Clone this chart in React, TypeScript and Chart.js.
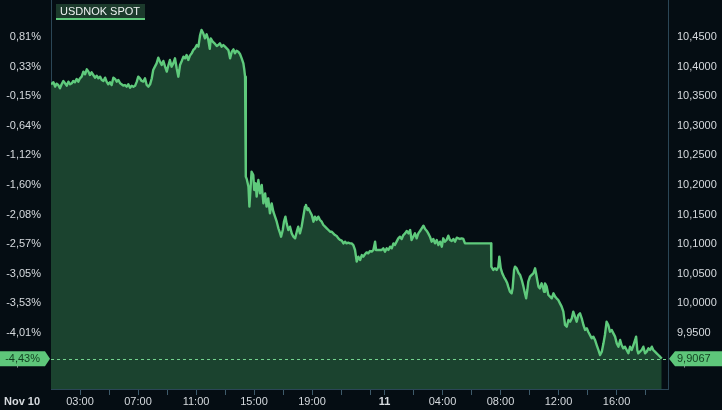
import React, { useEffect, useRef } from "react";
import { Chart, registerables } from "chart.js";

Chart.register(...registerables);

// [minutes since Nov 10 00:00, USDNOK price]
const sessionAsia: [number, number][] = [
  [60,10.3701],[70,10.3735],[77,10.3661],[83,10.3712],[90,10.3689],[97,10.3633],[104,10.3701],[111,10.3757],[118,10.3718],[125,10.3678],[132,10.3746],[139,10.3701],[146,10.3718],[152,10.3757],[159,10.3735],[166,10.3791],[173,10.3746],[180,10.3802],[187,10.3830],[194,10.3915],[201,10.3870],[208,10.3954],[215,10.3915],[221,10.3858],[228,10.3903],[235,10.3858],[242,10.3813],[249,10.3847],[256,10.3802],[263,10.3830],[270,10.3774],[277,10.3757],[284,10.3813],[290,10.3746],[297,10.3701],[304,10.3735],[311,10.3689],[318,10.3813],[325,10.3791],[332,10.3746],[339,10.3774],[346,10.3718],[352,10.3701],[359,10.3678],[366,10.3689],[373,10.3661],[380,10.3701],[387,10.3644],[394,10.3678],[401,10.3661],[408,10.3678],[415,10.3746],[421,10.3830],[428,10.3802],[435,10.3757],[442,10.3746],[449,10.3802],[456,10.3689],[463,10.3661],[470,10.3701],[477,10.3802],[483,10.3943],[490,10.3999],[497,10.4055],[504,10.4151],[511,10.4084],[518,10.4027],[525,10.4095],[532,10.3999],[539,10.3915],[546,10.4027],[552,10.4112],[559,10.3999],[566,10.4055],[573,10.4140],[580,10.3971],[587,10.3830],[594,10.4027],[601,10.4095],[608,10.4168],[615,10.4140],[621,10.4196],[628,10.4112],[635,10.4185],[642,10.4224],[649,10.4281],[656,10.4309],[663,10.4365],[670,10.4337],[677,10.4534],[683,10.4619],[690,10.4562],[697,10.4478],[704,10.4545],[711,10.4450],[717,10.4300],[721,10.4477],[729,10.4421],[739,10.4382],[746,10.4348],[752,10.4365],[759,10.4393],[766,10.4336],[773,10.4365],[780,10.4336],[787,10.4308],[794,10.4280],[801,10.4139],[808,10.4252],[815,10.4291],[821,10.4224],[828,10.4269],[835,10.4252],[842,10.4213],[849,10.4139],[856,10.4055],[860,10.3942],[863,10.3830],
];

const sessionAfterCpi: [number, number][] = [
  [866,10.2141],[870,10.2100],[877,10.1972],[881,10.1634],[886,10.1972],[890,10.2225],[897,10.2169],[901,10.1915],[907,10.2028],[911,10.1803],[918,10.2084],[925,10.1859],[932,10.2000],[939,10.1690],[946,10.1859],[952,10.1634],[959,10.1775],[966,10.1521],[973,10.1690],[980,10.1549],[987,10.1465],[994,10.1380],[1001,10.1268],[1008,10.1183],[1012,10.1127],[1019,10.1240],[1024,10.1380],[1030,10.1465],[1035,10.1352],[1042,10.1240],[1049,10.1296],[1056,10.1183],[1063,10.1127],[1070,10.1099],[1077,10.1211],[1083,10.1296],[1090,10.1183],[1097,10.1296],[1104,10.1465],[1111,10.1634],[1115,10.1662],[1121,10.1577],[1125,10.1606],[1132,10.1549],[1139,10.1493],[1146,10.1380],[1152,10.1465],[1159,10.1409],[1166,10.1465],[1173,10.1409],[1180,10.1380],[1187,10.1324],[1194,10.1296],[1201,10.1268],[1208,10.1240],[1215,10.1211],[1221,10.1211],[1228,10.1183],[1235,10.1155],[1242,10.1138],[1249,10.1099],[1256,10.1071],[1263,10.1060],[1270,10.1014],[1277,10.1042],[1283,10.1014],[1290,10.1026],[1297,10.1014],[1304,10.1014],[1311,10.0986],[1318,10.0902],[1325,10.0705],[1332,10.0789],[1339,10.0733],
];

const sessionOvernight: [number, number][] = [
  [1346,10.0817],[1352,10.0789],[1359,10.0829],[1366,10.0862],[1373,10.0845],[1380,10.0885],[1387,10.0874],[1394,10.0902],[1401,10.1043],[1405,10.0902],[1428,10.0902],[1435,10.0930],[1442,10.0874],[1449,10.0930],[1456,10.0902],[1463,10.0958],[1470,10.0930],[1477,10.1014],[1483,10.0986],[1490,10.1043],[1497,10.1099],[1504,10.1127],[1511,10.1088],[1518,10.1155],[1525,10.1183],[1532,10.1223],[1539,10.1183],[1546,10.1240],[1552,10.1071],[1559,10.1127],[1566,10.1183],[1573,10.1099],[1580,10.1183],[1587,10.1223],[1594,10.1268],[1601,10.1313],[1608,10.1257],[1615,10.1223],[1621,10.1183],[1628,10.1127],[1635,10.1043],[1642,10.1088],[1649,10.1014],[1656,10.1071],[1663,10.0986],[1670,10.1043],[1677,10.0958],[1683,10.1099],[1690,10.1043],[1697,10.1071],[1704,10.1144],[1711,10.1071],[1718,10.1054],[1725,10.1088],[1732,10.1043],[1739,10.1110],[1746,10.1099],[1752,10.1088],[1759,10.1099],[1766,10.1088],[1773,10.1014],[1881,10.1014],
];

const sessionNov11: [number, number][] = [
  [1882,10.0620],[1890,10.0564],[1897,10.0592],[1904,10.0564],[1911,10.0620],[1915,10.0789],[1921,10.0592],[1928,10.0500],[1935,10.0440],[1943,10.0384],[1948,10.0339],[1952,10.0283],[1959,10.0198],[1966,10.0170],[1970,10.0254],[1976,10.0564],[1980,10.0620],[1987,10.0592],[1994,10.0519],[2001,10.0480],[2008,10.0395],[2015,10.0283],[2021,10.0170],[2026,10.0086],[2031,10.0226],[2035,10.0367],[2042,10.0452],[2049,10.0480],[2056,10.0508],[2063,10.0592],[2067,10.0508],[2072,10.0395],[2077,10.0283],[2083,10.0254],[2090,10.0339],[2095,10.0283],[2100,10.0198],[2104,10.0339],[2111,10.0283],[2118,10.0142],[2125,10.0114],[2132,10.0086],[2139,10.0170],[2146,10.0114],[2152,10.0086],[2159,10.0057],[2166,10.0001],[2173,9.9945],[2180,9.9860],[2187,9.9635],[2194,9.9607],[2201,9.9720],[2208,9.9691],[2215,9.9748],[2221,9.9860],[2228,9.9776],[2235,9.9691],[2242,9.9804],[2249,9.9832],[2256,9.9748],[2263,9.9635],[2270,9.9551],[2277,9.9579],[2283,9.9522],[2290,9.9466],[2297,9.9410],[2304,9.9438],[2311,9.9382],[2318,9.9297],[2325,9.9213],[2332,9.9128],[2339,9.9185],[2346,9.9325],[2352,9.9466],[2359,9.9691],[2366,9.9635],[2373,9.9522],[2380,9.9551],[2387,9.9494],[2394,9.9438],[2401,9.9325],[2408,9.9269],[2415,9.9382],[2421,9.9297],[2428,9.9241],[2435,9.9269],[2442,9.9213],[2449,9.9157],[2456,9.9269],[2463,9.9213],[2470,9.9297],[2477,9.9382],[2481,9.9438],[2486,9.9213],[2490,9.9157],[2497,9.9185],[2504,9.9213],[2511,9.9269],[2518,9.9157],[2525,9.9185],[2532,9.9241],[2539,9.9213],[2546,9.9269],[2552,9.9213],[2559,9.9185],[2566,9.9157],[2573,9.9128],[2580,9.9100],[2587,9.9067],
];

const xTickMinutes = [180,300,420,540,660,780,900,1020,1140,1260,1380,1440,1560,1680,1800,1920,2040,2160,2280,2400,2520];
const xTickLabels = ["03:00","","07:00","","11:00","","15:00","","19:00","","","11","","04:00","","08:00","","12:00","","16:00",""];
const boldTickMinute = 1440;
const firstDateLabel = "Nov 10";

const yTickPrices = [9.90, 9.95, 10.00, 10.05, 10.10, 10.15, 10.20, 10.25, 10.30, 10.35, 10.40, 10.45];
const yPctLabels = ["-4,50%","-4,01%","-3,53%","-3,05%","-2,57%","-2,08%","-1,60%","-1,12%","-0,64%","-0,15%","0,33%","0,81%"];
const yPriceLabels = ["9,9000","9,9500","10,0000","10,0500","10,1000","10,1500","10,2000","10,2500","10,3000","10,3500","10,4000","10,4500"];

const seriesName = "USDNOK SPOT";
const lastPrice = 9.9067;
const lastPriceLabel = "9,9067";
const lastPctLabel = "-4,43%";

const X_MIN = 60;
const X_MAX = 2613;
const Y_MIN = 9.8554;
const Y_MAX = 10.5125;

const FONT = "'Liberation Sans', Arial, sans-serif";
const BG = "#050d13";
const LINE = "#5fca7c";
const FILL = "#1b432f";
const TAG = "#5ec67a";
const TAG_TEXT = "#123f20";
const AXIS_TEXT = "#d6dade";
const BORDER = "#2b4656";
const TICK = "#3e5b6b";

const overlay = {
  id: "overlay",
  afterDatasetsDraw(chart: any) {
    const { ctx, chartArea, scales } = chart;
    const y = Math.round(scales.y.getPixelForValue(lastPrice)) + 0.5;
    ctx.save();
    ctx.strokeStyle = "#74d38e";
    ctx.lineWidth = 1;
    ctx.setLineDash([3, 3]);
    ctx.beginPath();
    ctx.moveTo(chartArea.left, y);
    ctx.lineTo(chartArea.right, y);
    ctx.stroke();
    ctx.restore();
  },
  afterDraw(chart: any) {
    const { ctx, chartArea, scales, width } = chart;
    const yc = scales.y.getPixelForValue(lastPrice);
    ctx.save();
    // right price tag
    const rx = chartArea.right + 1;
    ctx.fillStyle = TAG;
    ctx.beginPath();
    ctx.moveTo(rx, yc);
    ctx.lineTo(rx + 6, yc - 7.5);
    ctx.lineTo(width, yc - 7.5);
    ctx.lineTo(width, yc + 7.5);
    ctx.lineTo(rx + 6, yc + 7.5);
    ctx.closePath();
    ctx.fill();
    ctx.fillStyle = TAG_TEXT;
    ctx.font = `11px ${FONT}`;
    ctx.textBaseline = "middle";
    ctx.textAlign = "left";
    ctx.fillText(lastPriceLabel, chartArea.right + 9, yc + 0.5);
    // left pct tag
    const lx = chartArea.left - 1;
    ctx.fillStyle = TAG;
    ctx.beginPath();
    ctx.moveTo(0, yc - 7.5);
    ctx.lineTo(lx - 5, yc - 7.5);
    ctx.lineTo(lx, yc);
    ctx.lineTo(lx - 5, yc + 7.5);
    ctx.lineTo(0, yc + 7.5);
    ctx.closePath();
    ctx.fill();
    ctx.fillStyle = TAG_TEXT;
    ctx.textAlign = "right";
    ctx.fillText(lastPctLabel, chartArea.left - 11, yc + 0.5);
    // legend box
    ctx.fillStyle = "#1c3a2c";
    ctx.fillRect(56, 4, 89, 14);
    ctx.fillStyle = LINE;
    ctx.fillRect(56, 18, 89, 2);
    ctx.fillStyle = "#eef2f2";
    ctx.textAlign = "left";
    ctx.fillText(seriesName, 60, 12);
    // first date label
    ctx.fillStyle = AXIS_TEXT;
    ctx.font = `bold 11px ${FONT}`;
    ctx.textAlign = "center";
    ctx.fillText(firstDateLabel, 22, chartArea.bottom + 12.6);
    ctx.restore();
  },
};

export default function App() {
  const ref = useRef<HTMLCanvasElement | null>(null);

  useEffect(() => {
    document.body.style.margin = "0";
    document.body.style.background = BG;
    const canvas = ref.current;
    if (!canvas) return;
    const points = [...sessionAsia, ...sessionAfterCpi, ...sessionOvernight, ...sessionNov11].map(([x, y]) => ({ x, y }));
    const chart = new Chart(canvas, {
      type: "line",
      data: {
        datasets: [
          {
            label: seriesName,
            data: points,
            borderColor: LINE,
            backgroundColor: FILL,
            borderWidth: 2.4,
            borderJoinStyle: "round",
            pointRadius: 0,
            tension: 0,
            fill: "start",
            yAxisID: "y",
          },
        ],
      },
      options: {
        animation: false,
        responsive: false,
        maintainAspectRatio: false,
        layout: { padding: 0 },
        plugins: { legend: { display: false }, tooltip: { enabled: false } },
        scales: {
          x: {
            type: "linear",
            min: X_MIN,
            max: X_MAX,
            afterBuildTicks: (s: any) => {
              s.ticks = xTickMinutes.map((v) => ({ value: v }));
            },
            afterFit: (s: any) => {
              s.height = 21;
              s.paddingLeft = 0;
              s.paddingRight = 0;
            },
            ticks: {
              autoSkip: false,
              maxRotation: 0,
              minRotation: 0,
              padding: 0,
              color: AXIS_TEXT,
              font: (c: any) => ({
                family: FONT,
                size: 11,
                weight: c.tick && c.tick.value === boldTickMinute ? "bold" : "normal",
              }),
              callback: (v: any) => {
                const i = xTickMinutes.indexOf(Number(v));
                return i >= 0 ? xTickLabels[i] : "";
              },
            },
            grid: { display: true, drawOnChartArea: false, drawTicks: true, tickLength: 6, color: TICK },
            border: { display: true, color: BORDER, width: 1 },
          },
          yL: {
            type: "linear",
            position: "left",
            min: Y_MIN,
            max: Y_MAX,
            afterBuildTicks: (s: any) => {
              s.ticks = yTickPrices.map((v) => ({ value: v }));
            },
            afterFit: (s: any) => {
              s.width = 51;
              s.paddingTop = 0;
              s.paddingBottom = 0;
            },
            ticks: {
              padding: 10,
              color: AXIS_TEXT,
              font: { family: FONT, size: 11 },
              callback: (_v: any, i: number) => yPctLabels[i],
            },
            grid: { display: false, drawTicks: false },
            border: { display: true, color: BORDER, width: 1 },
          },
          y: {
            type: "linear",
            position: "right",
            min: Y_MIN,
            max: Y_MAX,
            afterBuildTicks: (s: any) => {
              s.ticks = yTickPrices.map((v) => ({ value: v }));
            },
            afterFit: (s: any) => {
              s.width = 54;
              s.paddingTop = 0;
              s.paddingBottom = 0;
            },
            ticks: {
              padding: 9,
              color: AXIS_TEXT,
              font: { family: FONT, size: 11 },
              callback: (_v: any, i: number) => yPriceLabels[i],
            },
            grid: { display: false, drawTicks: false },
            border: { display: true, color: BORDER, width: 1 },
          },
        },
      },
      plugins: [overlay],
    } as any);
    return () => chart.destroy();
  }, []);

  return (
    <div style={{ width: 722, height: 410, background: BG }}>
      <canvas ref={ref} width={722} height={410} style={{ display: "block" }} />
    </div>
  );
}
